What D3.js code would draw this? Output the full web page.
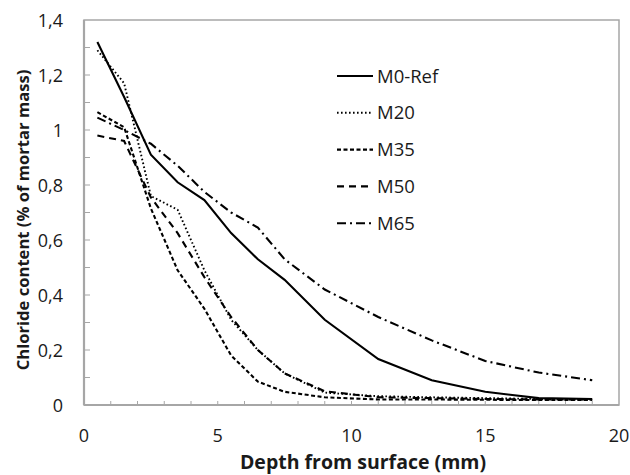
<!DOCTYPE html>
<html>
<head>
<meta charset="utf-8">
<script src="https://cdn.jsdelivr.net/npm/d3@7"></script>
<style>
body { margin: 0; background: #fff; }
text { font-family: "Open Sans", "Noto Sans", sans-serif; }
</style>
</head>
<body>
<script>
var w = 630;
var h = 475;
var margin = {top: 20, right: 11, bottom: 70, left: 84};

// depth (mm) of each measuring point
var depths = [0.5, 1.5, 2.5, 3.5, 4.5, 5.5, 6.5, 7.5, 9, 11, 13, 15, 17, 19];

// chloride content (% of mortar mass)
var m0Ref = [1.32, 1.12, 0.91, 0.81, 0.745, 0.625, 0.53, 0.455, 0.31, 0.167, 0.09, 0.048, 0.025, 0.022];
var m20   = [1.29, 1.17, 0.76, 0.71, 0.49, 0.31, 0.2, 0.115, 0.045, 0.032, 0.028, 0.025, 0.022, 0.02];
var m35   = [1.065, 1.01, 0.715, 0.49, 0.35, 0.18, 0.085, 0.048, 0.028, 0.02, 0.02, 0.019, 0.018, 0.018];
var m50   = [0.98, 0.96, 0.755, 0.625, 0.465, 0.32, 0.2, 0.115, 0.05, 0.028, 0.025, 0.022, 0.02, 0.02];
var m65   = [1.045, 1.0, 0.95, 0.87, 0.775, 0.70, 0.645, 0.53, 0.42, 0.32, 0.235, 0.16, 0.118, 0.09];

var seriesNames = ["M0-Ref", "M20", "M35", "M50", "M65"];
var seriesValues = [m0Ref, m20, m35, m50, m65];
var dashes = [null, "1.6,2.4", "4,2.5", "7,5", "9,4,2,4"];
var widths = [2.1, 1.9, 2.1, 2.1, 2.1];

var xTicks = [0, 5, 10, 15, 20];
var yTicks = [0, 0.2, 0.4, 0.6, 0.8, 1, 1.2, 1.4];

var iw = w - margin.left - margin.right;
var ih = h - margin.top - margin.bottom;

var svg = d3.select("body").append("svg")
    .attr("width", w)
    .attr("height", h);

var g = svg.append("g")
    .attr("transform", "translate(" + margin.left + "," + margin.top + ")");

var xScale = d3.scaleLinear().domain([0, 20]).range([0, iw]);
var yScale = d3.scaleLinear().domain([0, 1.4]).range([ih, 0]);

var fmt = function(d){ return String(d).replace(".", ","); };

// frame (top and right)
g.append("rect")
    .attr("x", 0).attr("y", 0)
    .attr("width", iw).attr("height", ih)
    .attr("fill", "none")
    .attr("stroke", "#a6a6a6")
    .attr("stroke-width", 1.5);

// minor ticks, pointing inside
g.selectAll(".xt")
    .data(d3.range(1, 20))
    .enter().append("line")
    .attr("x1", function(d){ return xScale(d); })
    .attr("x2", function(d){ return xScale(d); })
    .attr("y1", ih).attr("y2", ih - 4)
    .attr("stroke", "#a6a6a6").attr("stroke-width", 1);

g.selectAll(".yt")
    .data(d3.range(1, 14).map(function(i){ return i / 10; }))
    .enter().append("line")
    .attr("y1", function(d){ return yScale(d); })
    .attr("y2", function(d){ return yScale(d); })
    .attr("x1", 0).attr("x2", 6)
    .attr("stroke", "#a6a6a6").attr("stroke-width", 1);

// axis lines
g.append("line").attr("x1", 0).attr("x2", 0).attr("y1", 0).attr("y2", ih)
    .attr("stroke", "#a6a6a6").attr("stroke-width", 2.2);
g.append("line").attr("x1", 0).attr("x2", iw).attr("y1", ih).attr("y2", ih)
    .attr("stroke", "#a6a6a6").attr("stroke-width", 2.2);

// tick labels
g.selectAll(".xl")
    .data(xTicks)
    .enter().append("text")
    .attr("x", function(d){ return xScale(d); })
    .attr("y", ih + 37)
    .attr("text-anchor", "middle")
    .attr("font-size", "18px")
    .attr("fill", "#1a1a1a")
    .text(fmt);

g.selectAll(".yl")
    .data(yTicks)
    .enter().append("text")
    .attr("x", -21)
    .attr("y", function(d){ return yScale(d) + 6.5; })
    .attr("text-anchor", "end")
    .attr("font-size", "18px")
    .attr("fill", "#1a1a1a")
    .text(fmt);

// axis titles
svg.append("text")
    .attr("x", 363)
    .attr("y", 469)
    .attr("text-anchor", "middle")
    .attr("font-size", "19.5px")
    .attr("font-weight", "bold")
    .attr("fill", "#1a1a1a")
    .text("Depth from surface (mm)");

svg.append("text")
    .attr("transform", "translate(29,220) rotate(-90)")
    .attr("text-anchor", "middle")
    .attr("font-size", "16.6px")
    .attr("font-weight", "bold")
    .attr("fill", "#1a1a1a")
    .text("Chloride content (% of mortar mass)");

// lines
var line = d3.line()
    .x(function(d){ return xScale(d[0]); })
    .y(function(d){ return yScale(d[1]); });

seriesValues.forEach(function(vals, i){
    var pts = depths.map(function(x, j){ return [x, vals[j]]; });
    g.append("path")
        .datum(pts)
        .attr("d", line)
        .attr("fill", "none")
        .attr("stroke", "#000")
        .attr("stroke-width", widths[i])
        .attr("stroke-dasharray", dashes[i]);
});

// legend
var leg = svg.append("g").attr("transform", "translate(337,76)");
seriesNames.forEach(function(name, i){
    var row = leg.append("g").attr("transform", "translate(0," + (i * 36.8) + ")");
    row.append("line")
        .attr("x1", 0).attr("x2", 36).attr("y1", 0).attr("y2", 0)
        .attr("stroke", "#000")
        .attr("stroke-width", widths[i])
        .attr("stroke-dasharray", dashes[i]);
    row.append("text")
        .attr("x", 40).attr("y", 6.5)
        .attr("font-size", "18.5px")
        .attr("fill", "#1a1a1a")
        .text(name);
});
</script>
</body>
</html>
